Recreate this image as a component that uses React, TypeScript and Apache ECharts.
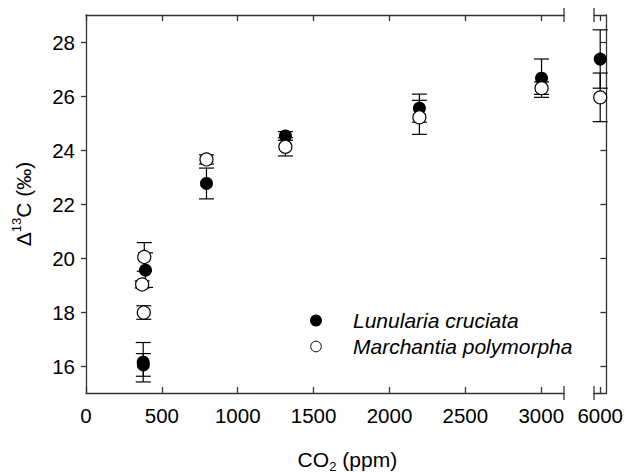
import React, { useEffect, useRef } from "react";
import * as echarts from "echarts";

const FONT = '"Liberation Sans", Arial, Helvetica, sans-serif';

// Tick positions
const xTicksMain = [0, 500, 1000, 1500, 2000, 2500, 3000];
const xTicksHigh = [6000];
const yTicks = [16, 18, 20, 22, 24, 26, 28];

const speciesNames = ["Lunularia cruciata", "Marchantia polymorpha"];

// [CO2 (ppm), Δ13C (‰), ± error]
const lunulariaMain = [
  [377, 16.14, 0.73],
  [378, 16.04, 0.42],
  [392, 19.55, 0.64],
  [794, 22.76, 0.57],
  [1314, 24.52, 0.16],
  [2197, 25.55, 0.52],
  [3002, 26.66, 0.71],
];
const lunulariaHigh = [[6000, 27.37, 1.08]];

const marchantiaMain = [
  [384, 20.04, 0.53],
  [370, 19.02, 0.13],
  [381, 17.98, 0.25],
  [794, 23.65, 0.17],
  [1314, 24.12, 0.34],
  [2197, 25.21, 0.63],
  [3002, 26.29, 0.23],
];
const marchantiaHigh = [[6000, 25.95, 0.9]];

// Layout of the two panels of the broken x axis
const GRID_TOP = 15;
const GRID_H = 378;
const L1 = 86;
const W1 = 478;
const L2 = 594;
const W2 = 17.3;

const AXIS_COLOR = "#333";
const AXIS_W = 1.3;

const axisLine = { show: true, onZero: false, lineStyle: { color: AXIS_COLOR, width: AXIS_W } };
const tickLabel = { fontSize: 20.5, color: "#000", fontFamily: FONT, formatter: (v: number) => String(v) };

const errRender = (params: any, api: any) => {
  const x = api.value(0);
  const y = api.value(1);
  const e = api.value(2);
  const top = api.coord([x, y + e]);
  const bot = api.coord([x, y - e]);
  const hw = 7.5;
  const style = { stroke: "#000", lineWidth: 1.2 };
  return {
    type: "group",
    children: [
      { type: "line", shape: { x1: top[0], y1: top[1], x2: bot[0], y2: bot[1] }, style },
      { type: "line", shape: { x1: top[0] - hw, y1: top[1], x2: top[0] + hw, y2: top[1] }, style },
      { type: "line", shape: { x1: bot[0] - hw, y1: bot[1], x2: bot[0] + hw, y2: bot[1] }, style },
    ],
  };
};

const errSeries = (data: number[][], xi: number, yi: number) => ({
  type: "custom",
  xAxisIndex: xi,
  yAxisIndex: yi,
  renderItem: errRender,
  encode: { x: 0, y: 1 },
  data,
  z: 1,
  silent: true,
});

const pointSeries = (name: string, data: number[][], xi: number, yi: number, filled: boolean) => ({
  type: "scatter",
  name,
  xAxisIndex: xi,
  yAxisIndex: yi,
  symbol: "circle",
  symbolSize: 13,
  data: data.map((d) => [d[0], d[1]]),
  itemStyle: filled
    ? { color: "#000", opacity: 1 }
    : { color: "#fff", borderColor: "#000", borderWidth: 1.2, opacity: 1 },
  z: filled ? 2 : 3,
});

const breakMarks = [L1 + W1, L2].flatMap((x) =>
  [GRID_TOP, GRID_TOP + GRID_H].map((y) => ({
    type: "line",
    shape: { x1: x, y1: y - 7, x2: x, y2: y + 7 },
    style: { stroke: AXIS_COLOR, lineWidth: AXIS_W },
  }))
);

// Key: symbol + italic species name per row
const LEGEND_X = 316;
const LEGEND_ROWS = [320.5, 346.5];
const legendItems = speciesNames.flatMap((name, i) => [
  {
    type: "circle",
    shape: { cx: LEGEND_X, cy: LEGEND_ROWS[i], r: i === 0 ? 6 : 5.3 },
    style: i === 0 ? { fill: "#000" } : { fill: "#fff", stroke: "#000", lineWidth: 1 },
  },
  {
    type: "text",
    x: 353,
    y: LEGEND_ROWS[i],
    style: {
      text: name,
      fontSize: 21,
      fontStyle: "italic",
      fontFamily: FONT,
      fill: "#000",
      align: "left",
      verticalAlign: "middle",
    },
  },
]);

const plainText = (text: string, x: number, y: number, size: number) => ({
  type: "text",
  x,
  y,
  style: { text, fontSize: size, fontFamily: FONT, fill: "#000", align: "left", verticalAlign: "middle" },
});

export default function App() {
  const ref = useRef<HTMLDivElement>(null);

  useEffect(() => {
    if (!ref.current) return;
    const chart = echarts.init(ref.current, null, { renderer: "svg" });

    const xBase = (grid: number, min: number, max: number, ticks: number[], pos: string, labels: boolean) => ({
      type: "value",
      gridIndex: grid,
      min,
      max,
      position: pos,
      axisLine,
      axisTick: { show: true, inside: true, length: 6, customValues: ticks, lineStyle: { color: AXIS_COLOR, width: AXIS_W } },
      axisLabel: labels ? { show: true, customValues: ticks, margin: 12, ...tickLabel } : { show: false },
      splitLine: { show: false },
    });

    chart.setOption({
      animation: false,
      backgroundColor: "#fff",
      grid: [
        { left: L1, top: GRID_TOP, width: W1, height: GRID_H },
        { left: L2, top: GRID_TOP, width: W2, height: GRID_H },
      ],
      xAxis: [
        xBase(0, 0, 3150, xTicksMain, "bottom", true),
        xBase(0, 0, 3150, xTicksMain, "top", false),
        xBase(1, 5940, 6060, xTicksHigh, "bottom", true),
        xBase(1, 5940, 6060, xTicksHigh, "top", false),
      ],
      yAxis: [
        {
          type: "value",
          gridIndex: 0,
          min: 15,
          max: 29,
          position: "left",
          axisLine,
          axisTick: { show: true, inside: false, length: 5, customValues: yTicks, lineStyle: { color: AXIS_COLOR, width: AXIS_W } },
          axisLabel: { show: true, customValues: yTicks, margin: 11, ...tickLabel },
          splitLine: { show: false },
        },
        {
          type: "value",
          gridIndex: 1,
          min: 15,
          max: 29,
          position: "right",
          axisLine,
          axisTick: { show: true, inside: true, length: 6, customValues: yTicks, lineStyle: { color: AXIS_COLOR, width: AXIS_W } },
          axisLabel: { show: false },
          splitLine: { show: false },
        },
      ],
      graphic: [
        ...breakMarks,
        ...legendItems,
        {
          type: "text",
          x: 22,
          y: 204,
          rotation: Math.PI / 2,
          style: {
            text: "{a|Δ}{s|13}{a|C (‰)}",
            align: "center",
            verticalAlign: "middle",
            fill: "#000",
            rich: {
              a: { fontSize: 21, fontFamily: FONT, fill: "#000", lineHeight: 24, verticalAlign: "bottom" },
              s: { fontSize: 13, fontFamily: FONT, fill: "#000", lineHeight: 14, verticalAlign: "top" },
            },
          },
        },
        plainText("CO", 297.5, 459, 21),
        plainText("2", 329.2, 466, 13),
        plainText(" (ppm)", 336.5, 459, 21),
      ],
      series: [
        errSeries(lunulariaMain, 0, 0),
        errSeries(lunulariaHigh, 2, 1),
        errSeries(marchantiaMain, 0, 0),
        errSeries(marchantiaHigh, 2, 1),
        pointSeries(speciesNames[0], lunulariaMain, 0, 0, true),
        pointSeries(speciesNames[0], lunulariaHigh, 2, 1, true),
        pointSeries(speciesNames[1], marchantiaMain, 0, 0, false),
        pointSeries(speciesNames[1], marchantiaHigh, 2, 1, false),
      ],
    });

    return () => chart.dispose();
  }, []);

  return (
    <div
      ref={ref}
      style={{ position: "fixed", left: 0, top: 0, width: 626, height: 473, background: "#fff" }}
    />
  );
}
